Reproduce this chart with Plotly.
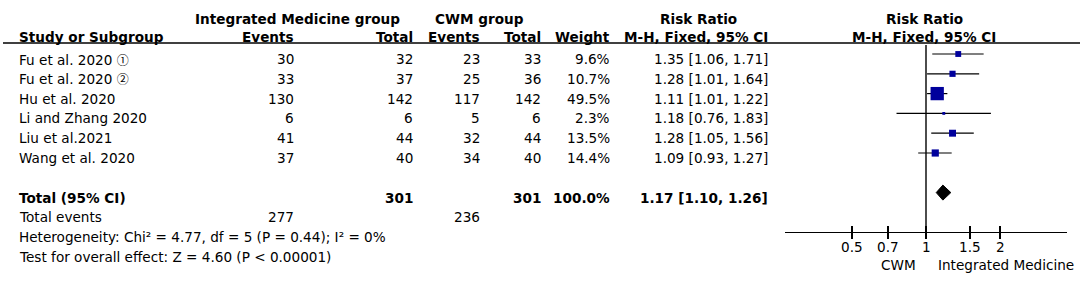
import plotly.graph_objects as go
import math

# ---------------- data ----------------
study_names = ["Fu et al. 2020", "Fu et al. 2020", "Hu et al. 2020",
               "Li and Zhang 2020", "Liu et al.2021", "Wang et al. 2020"]
study_marks = ["①", "②", "", "", "", ""]
im_events = [30, 33, 130, 6, 41, 37]
im_total = [32, 37, 142, 6, 44, 40]
cwm_events = [23, 25, 117, 5, 32, 34]
cwm_total = [33, 36, 142, 6, 44, 40]
weights = [9.6, 10.7, 49.5, 2.3, 13.5, 14.4]
rr = [1.35, 1.28, 1.11, 1.18, 1.28, 1.09]
ci_lo = [1.06, 1.01, 1.01, 0.76, 1.05, 0.93]
ci_hi = [1.71, 1.64, 1.22, 1.83, 1.56, 1.27]

total_label = "Total (95% CI)"
total_im = 301
total_cwm = 301
total_weight = "100.0%"
total_rr = 1.17
total_lo = 1.10
total_hi = 1.26
events_im = 277
events_cwm = 236
het_text = "Heterogeneity: Chi² = 4.77, df = 5 (P = 0.44); I² = 0%"
effect_text = "Test for overall effect: Z = 4.60 (P < 0.00001)"

tick_vals = [0.5, 0.7, 1, 1.5, 2]
tick_text = ["0.5", "0.7", "1", "1.5", "2"]
left_label = "CWM"
right_label = "Integrated Medicine"

# ---------------- layout constants ----------------
W, H = 1084, 284
FONT = "DejaVu Sans"
FS = 13.6
BLUE = "#00009c"

def px(p):
    return p / W

COL_STUDY = 17
COL_IM_EV = 296
COL_IM_TOT = 415
COL_CWM_EV = 482
COL_CWM_TOT = 543
COL_WEIGHT = 612
COL_RR = 770
FOREST_CENTER = 924
TEXT_SHIFT = -5

fig = go.Figure()
ann = []

def txt(x, row, s, anchor="right", bold=False, size=FS, shift=TEXT_SHIFT, xref="paper"):
    ann.append(dict(xref=xref, yref="y", x=(px(x) if xref == "paper" else x), y=row,
                    text=(f"<b>{s}</b>" if bold else s),
                    xanchor=anchor, yanchor="middle", showarrow=False, yshift=shift,
                    font=dict(family=FONT, size=size, color="black")))

# headers
txt(297, -2, "Integrated Medicine group", "center", True)
txt(479, -2, "CWM group", "center", True)
txt(698, -2, "Risk Ratio", "center", True)
txt(FOREST_CENTER, -2, "Risk Ratio", "center", True)
txt(COL_STUDY, -1.13, "Study or Subgroup", "left", True)
txt(COL_IM_EV, -1.13, "Events", "right", True)
txt(COL_IM_TOT, -1.13, "Total", "right", True)
txt(COL_CWM_EV, -1.13, "Events", "right", True)
txt(COL_CWM_TOT, -1.13, "Total", "right", True)
txt(COL_WEIGHT, -1.13, "Weight", "right", True)
txt(COL_RR, -1.13, "M-H, Fixed, 95% CI", "right", True)
txt(FOREST_CENTER, -1.13, "M-H, Fixed, 95% CI", "center", True)

for i, s in enumerate(study_names):
    label = s
    if study_marks[i]:
        label = (s + " <span style='font-family:\"Noto Sans CJK SC\";font-size:12px'>"
                 + study_marks[i] + "</span>")
    txt(COL_STUDY, i, label, "left")
    txt(COL_IM_EV, i, str(im_events[i]))
    txt(COL_IM_TOT, i, str(im_total[i]))
    txt(COL_CWM_EV, i, str(cwm_events[i]))
    txt(COL_CWM_TOT, i, str(cwm_total[i]))
    txt(COL_WEIGHT, i, f"{weights[i]:.1f}%")
    txt(COL_RR, i, f"{rr[i]:.2f} [{ci_lo[i]:.2f}, {ci_hi[i]:.2f}]")

txt(COL_STUDY, 7, total_label, "left", True)
txt(COL_IM_TOT, 7, str(total_im), "right", True)
txt(COL_CWM_TOT, 7, str(total_cwm), "right", True)
txt(COL_WEIGHT, 7, total_weight, "right", True)
txt(COL_RR, 7, f"{total_rr:.2f} [{total_lo:.2f}, {total_hi:.2f}]", "right", True)
txt(COL_STUDY, 8, "Total events", "left")
txt(COL_IM_EV, 8, str(events_im))
txt(COL_CWM_EV, 8, str(events_cwm))
txt(COL_STUDY, 9, het_text, "left")
txt(COL_STUDY, 10, effect_text, "left")

txt(898, 10.4, left_label, "center")
txt(936, 10.4, right_label, "left")

# tick labels under the forest axis (log axis: annotation x in log10 units)
for v, t in zip(tick_vals, tick_text):
    txt(math.log10(v), 9.75, t, "center", shift=0, xref="x")

# ---------------- forest ----------------
for i in range(len(study_names)):
    fig.add_trace(go.Scatter(x=[ci_lo[i], ci_hi[i]], y=[i, i], mode="lines",
                             line=dict(color="black", width=1.2), hoverinfo="skip",
                             showlegend=False, xaxis="x", yaxis="y"))
fig.add_trace(go.Scatter(x=rr, y=list(range(len(rr))), mode="markers",
                         marker=dict(symbol="square", color=BLUE, opacity=1,
                                     size=[max(2.5, 13.3 * math.sqrt(w / 49.5)) for w in weights],
                                     line=dict(width=0)),
                         showlegend=False, hoverinfo="skip", xaxis="x", yaxis="y"))
# diamond
dh = 0.38
fig.add_trace(go.Scatter(x=[total_lo, total_rr, total_hi, total_rr, total_lo],
                         y=[7, 7 - dh, 7, 7 + dh, 7], mode="lines", fill="toself",
                         fillcolor="black", line=dict(color="black", width=1),
                         showlegend=False, hoverinfo="skip", xaxis="x", yaxis="y"))
# invisible trace for overlay axis
fig.add_trace(go.Scatter(x=[1], y=[20], mode="markers", marker=dict(opacity=0),
                         showlegend=False, hoverinfo="skip", xaxis="x2", yaxis="y"))

shapes = [
    dict(type="line", xref="paper", yref="y", x0=px(3), x1=px(1080), y0=-0.556, y1=-0.556,
         line=dict(color="black", width=1.6)),
    dict(type="line", xref="x", yref="y", x0=1, x1=1, y0=-0.45, y1=9,
         line=dict(color="black", width=1.4)),
]

AX_POS = 1 - 232.2 / H
xr = [-0.57, 0.57]
dom = [px(785), px(1067)]
fig.update_layout(
    width=W, height=H, margin=dict(l=0, r=0, t=0, b=0),
    paper_bgcolor="white", plot_bgcolor="white",
    showlegend=False,
    annotations=ann, shapes=shapes,
    xaxis=dict(type="log", range=xr, domain=dom, anchor="free", position=AX_POS,
               showline=True, linecolor="black", linewidth=1.3,
               ticks="outside", ticklen=6, tickwidth=2, tickcolor="black",
               tickvals=tick_vals, showticklabels=False,
               showgrid=False, zeroline=False, fixedrange=True),
    xaxis2=dict(type="log", range=xr, domain=dom, anchor="free", position=AX_POS,
                overlaying="x", showline=False, ticks="inside", ticklen=6, tickwidth=2,
                tickcolor="black", tickvals=tick_vals, showticklabels=False,
                showgrid=False, zeroline=False, fixedrange=True),
    yaxis=dict(range=[(H - 54) / 19.8, -54 / 19.8], domain=[0, 1], visible=False,
               fixedrange=True),
)

fig.write_html("out.html", config={"displayModeBar": False},
               post_script="document.body.style.margin='0';")
